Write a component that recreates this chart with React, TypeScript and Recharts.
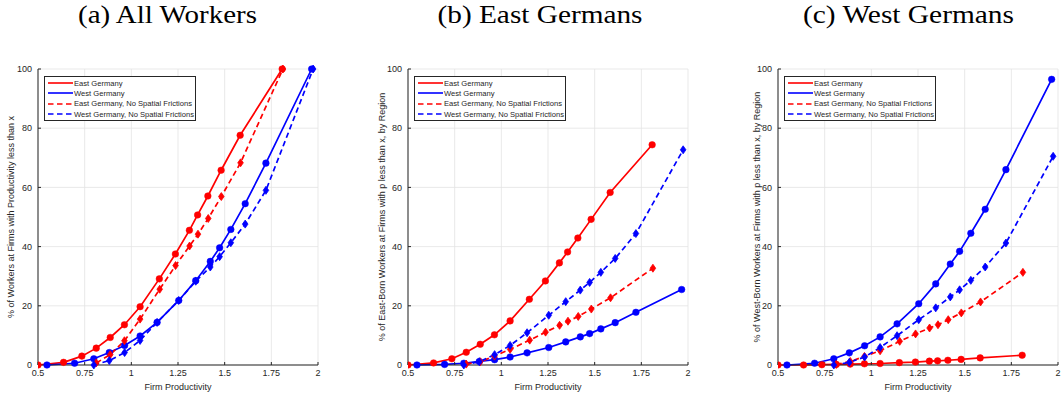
import { ComposedChart, Line, XAxis, YAxis, CartesianGrid, Legend } from "recharts";

const xTicks = [0.5, 0.75, 1, 1.25, 1.5, 1.75, 2];
const yTicks = [0, 20, 40, 60, 80, 100];

// firm productivity grid points
const xEast = [0.5, 0.637, 0.735, 0.812, 0.887, 0.963, 1.047, 1.15, 1.236, 1.311, 1.355, 1.41, 1.481, 1.583, 1.808];
const xWest = [0.548, 0.696, 0.799, 0.882, 0.964, 1.047, 1.138, 1.254, 1.345, 1.423, 1.473, 1.533, 1.61, 1.721, 1.966];
const xEastNF = [0.812, 0.887, 0.963, 1.047, 1.152, 1.237, 1.312, 1.357, 1.412, 1.482, 1.585, 1.812];
const xWestNF = [0.799, 0.882, 0.964, 1.047, 1.138, 1.254, 1.345, 1.423, 1.473, 1.533, 1.61, 1.721, 1.974];

// (a) all workers
const allEast = [0, 0.9, 3.0, 5.7, 9.3, 13.6, 19.7, 29.1, 37.5, 45.5, 50.7, 57.1, 65.8, 77.6, 100];
const allWest = [0, 0.6, 2.1, 4.2, 6.6, 9.8, 14.4, 21.8, 28.5, 35.0, 39.6, 45.8, 54.5, 68.2, 100];
const allEastNF = [0.7, 3.5, 8.2, 15.5, 25.6, 33.6, 40.2, 44.2, 49.5, 56.9, 68.3, 100];
const allWestNF = [0, 1.5, 4.2, 8.3, 14.4, 21.8, 28.3, 33.1, 36.6, 41.3, 47.6, 59.0, 100];

// (b) east-born
const ebEast = [0, 0.7, 2.1, 4.3, 7.0, 10.2, 14.9, 22.2, 28.4, 34.5, 38.2, 42.9, 49.2, 58.3, 74.4];
const ebWest = [0, 0.2, 0.6, 1.2, 1.8, 2.7, 4.1, 5.9, 7.8, 9.5, 10.6, 12.2, 14.3, 17.8, 25.5];
const ebEastNF = [0.3, 1.1, 3.0, 5.3, 8.4, 11.1, 13.4, 14.8, 16.4, 18.9, 22.7, 32.7];
const ebWestNF = [0, 1.1, 3.5, 6.6, 10.9, 16.8, 21.4, 25.3, 27.9, 31.3, 36.0, 44.4, 72.7];

// (c) west-born
const wbEast = [0, 0, 0.1, 0.2, 0.3, 0.4, 0.5, 0.8, 1.0, 1.3, 1.4, 1.6, 1.9, 2.4, 3.3];
const wbWest = [0, 0.6, 2.1, 4.1, 6.5, 9.5, 13.9, 20.7, 27.4, 34.1, 38.4, 44.5, 52.6, 66.0, 96.5];
const wbEastNF = [0.2, 1.2, 2.9, 4.8, 8.0, 10.5, 12.5, 13.6, 15.3, 17.6, 21.3, 31.3];
const wbWestNF = [0, 0.9, 2.7, 5.9, 9.9, 15.3, 19.3, 23.0, 25.4, 28.6, 33.1, 41.2, 70.5];

const seriesNames = [
  "East Germany",
  "West Germany",
  "East Germany, No Spatial Frictions",
  "West Germany, No Spatial Frictions",
];

const RED = "#ff0000";
const BLUE = "#0000ff";
const INK = "#262626";

const toPoints = (xs: number[], ys: number[]) => ys.map((y, i) => ({ x: xs[i], y }));

const circleDot = (color: string) => (p: any) => (
  <circle key={p.index} cx={p.cx} cy={p.cy} r={3.3} fill={color} stroke={color} strokeWidth={0.5} />
);

const diamondDot = (color: string) => (p: any) => (
  <polygon
    key={p.index}
    points={`${p.cx},${p.cy - 4} ${p.cx + 2.8},${p.cy} ${p.cx},${p.cy + 4} ${p.cx - 2.8},${p.cy}`}
    fill={color}
    stroke={color}
    strokeWidth={0.8}
  />
);

function LegendBox() {
  const rows = [
    { color: RED, dash: undefined },
    { color: BLUE, dash: undefined },
    { color: RED, dash: "5.5 3.5" },
    { color: BLUE, dash: "5.5 3.5" },
  ];
  return (
    <div
      style={{
        width: 152,
        height: 45,
        border: `1px solid ${INK}`,
        background: "#fff",
        boxSizing: "border-box",
        paddingTop: 1,
      }}
    >
      {rows.map((r, i) => (
        <div key={i} style={{ display: "flex", alignItems: "center", height: 10.3 }}>
          <svg width={29} height={10} style={{ display: "block" }}>
            <line x1={3} x2={28} y1={5} y2={5} stroke={r.color} strokeWidth={1.6} strokeDasharray={r.dash} />
          </svg>
          <span style={{ fontFamily: "Liberation Sans, Arial", fontSize: 7.6, color: INK, whiteSpace: "nowrap" }}>
            {seriesNames[i]}
          </span>
        </div>
      ))}
    </div>
  );
}

interface PanelProps {
  left: number;
  east: number[];
  west: number[];
  eastNF: number[];
  westNF: number[];
}

function Panel({ left, east, west, eastNF, westNF }: PanelProps) {
  const tick = { fill: INK, fontSize: 9, fontFamily: "Liberation Sans, Arial" };
  return (
    <div style={{ position: "absolute", left: left - 38, top: 0 }}>
      <ComposedChart width={340} height={398} margin={{ top: 69, right: 22, bottom: 13, left: 0 }}>
        <CartesianGrid stroke="#e3e3e3" strokeWidth={0.8} />
        <XAxis
          type="number"
          dataKey="x"
          domain={[0.5, 2]}
          ticks={xTicks}
          height={20}
          tick={tick}
          tickSize={-3}
          tickMargin={8}
          tickLine={{ stroke: INK }}
          axisLine={{ stroke: INK }}
          allowDataOverflow
        />
        <YAxis
          type="number"
          domain={[0, 100]}
          ticks={yTicks}
          width={38}
          tick={tick}
          tickSize={-3}
          tickMargin={9}
          tickLine={{ stroke: INK }}
          axisLine={{ stroke: INK }}
        />
        <Legend
          layout="vertical"
          align="center"
          verticalAlign="middle"
          content={() => <LegendBox />}
          wrapperStyle={{ left: 44, top: 76, width: 152, height: 45 }}
        />
        <Line
          data={toPoints(xEast, east)}
          dataKey="y"
          type="linear"
          stroke={RED}
          strokeWidth={1.7}
          dot={circleDot(RED)}
          activeDot={false}
          isAnimationActive={false}
        />
        <Line
          data={toPoints(xWest, west)}
          dataKey="y"
          type="linear"
          stroke={BLUE}
          strokeWidth={1.7}
          dot={circleDot(BLUE)}
          activeDot={false}
          isAnimationActive={false}
        />
        <Line
          data={toPoints(xEastNF, eastNF)}
          dataKey="y"
          type="linear"
          stroke={RED}
          strokeWidth={1.7}
          strokeDasharray="5.5 3.5"
          dot={diamondDot(RED)}
          activeDot={false}
          isAnimationActive={false}
        />
        <Line
          data={toPoints(xWestNF, westNF)}
          dataKey="y"
          type="linear"
          stroke={BLUE}
          strokeWidth={1.7}
          strokeDasharray="5.5 3.5"
          dot={diamondDot(BLUE)}
          activeDot={false}
          isAnimationActive={false}
        />
      </ComposedChart>
    </div>
  );
}

const panels = [
  { left: 38, title: "(a) All Workers", titleX: 167.5, titleW: 179, yLabel: "% of Workers at Firms with Productivity less than x", yLabelX: 11 },
  { left: 408, title: "(b) East Germans", titleX: 540, titleW: 205, yLabel: "% of East-Born Workers at Firms with p less than x, by Region", yLabelX: 382 },
  { left: 778, title: "(c) West Germans", titleX: 908.5, titleW: 211, yLabel: "% of West-Born Workers at Firms with p less than x, by Region", yLabelX: 757 },
];

export default function App() {
  return (
    <div
      style={{
        position: "absolute",
        left: 0,
        top: 0,
        width: 1063,
        height: 398,
        overflow: "hidden",
        background: "#fff",
      }}
    >
      <Panel left={38} east={allEast} west={allWest} eastNF={allEastNF} westNF={allWestNF} />
      <Panel left={408} east={ebEast} west={ebWest} eastNF={ebEastNF} westNF={ebWestNF} />
      <Panel left={778} east={wbEast} west={wbWest} eastNF={wbEastNF} westNF={wbWestNF} />
      <svg width={1063} height={398} style={{ position: "absolute", left: 0, top: 0, pointerEvents: "none" }}>
        {panels.map((p) => (
          <g key={p.title}>
            <text
              x={p.titleX}
              y={23}
              textAnchor="middle"
              fontFamily="Liberation Serif, Times New Roman, serif"
              fontSize={25}
              textLength={p.titleW}
              lengthAdjust="spacingAndGlyphs"
              fill="#000"
            >
              {p.title}
            </text>
            <text
              x={p.left + 140}
              y={390}
              textAnchor="middle"
              fontFamily="Liberation Sans, Arial"
              fontSize={9}
              fill={INK}
            >
              Firm Productivity
            </text>
            <text
              x={p.yLabelX}
              y={217}
              textAnchor="middle"
              dominantBaseline="central"
              transform={`rotate(-90 ${p.yLabelX} 217)`}
              fontFamily="Liberation Sans, Arial"
              fontSize={9}
              fill={INK}
            >
              {p.yLabel}
            </text>
          </g>
        ))}
      </svg>
    </div>
  );
}
